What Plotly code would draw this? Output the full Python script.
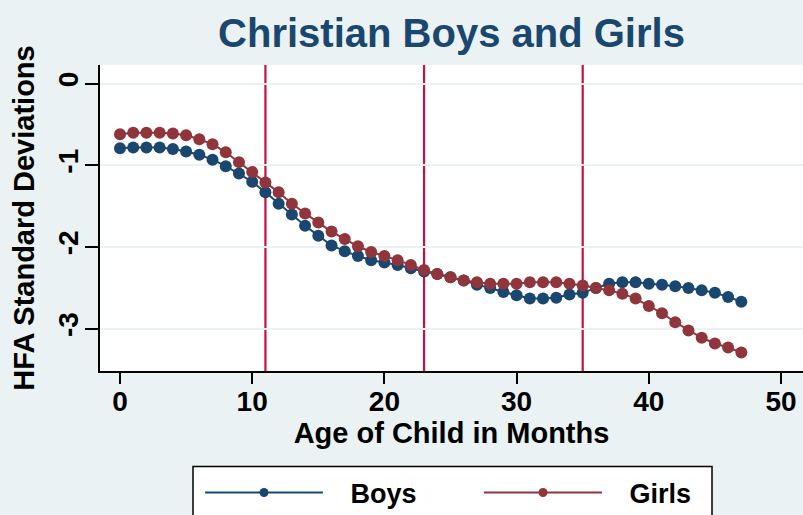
import plotly.graph_objects as go

months = list(range(48))
boys = [-0.79, -0.78, -0.78, -0.78, -0.80, -0.83, -0.87, -0.93, -1.01, -1.10, -1.20, -1.33,
        -1.47, -1.60, -1.74, -1.86, -1.98, -2.05, -2.11, -2.16, -2.19, -2.22, -2.26,
        -2.30, -2.33, -2.37, -2.41, -2.46, -2.50, -2.55, -2.59, -2.63, -2.63, -2.62, -2.58,
        -2.56, -2.50, -2.45, -2.43, -2.43, -2.45, -2.46, -2.48, -2.50, -2.53, -2.56, -2.61, -2.67]
girls = [-0.62, -0.60, -0.60, -0.60, -0.61, -0.63, -0.68, -0.74, -0.84, -0.96, -1.08, -1.21,
         -1.33, -1.47, -1.59, -1.70, -1.81, -1.90, -1.99, -2.06, -2.11, -2.16, -2.22,
         -2.28, -2.33, -2.37, -2.41, -2.43, -2.45, -2.45, -2.45, -2.43, -2.43, -2.43, -2.45,
         -2.47, -2.50, -2.53, -2.57, -2.63, -2.72, -2.81, -2.92, -3.02, -3.11, -3.18, -3.23, -3.29]
vlines = [11, 23, 35]
x_ticks = [0, 10, 20, 30, 40, 50]
y_ticks = [0, -1, -2, -3]

NAVY = "#1a476f"
MAROON = "#90353b"
CRAN = "#c8103e"
BG = "#eaf2f3"
FONT = "Liberation Sans, Arial, sans-serif"


def b(t):
    return "<b>" + t + "</b>"


fig = go.Figure()
for name, ys, col in [("Boys", boys, NAVY), ("Girls", girls, MAROON)]:
    fig.add_trace(go.Scatter(x=months, y=ys, mode="lines+markers", name=name,
                             line=dict(color=col, width=2),
                             marker=dict(color=col, size=12, line=dict(width=0)),
                             showlegend=False, legendgroup=name))
    fig.add_trace(go.Scatter(x=[None], y=[None], mode="lines+markers",
                             name="\u00a0\u00a0\u00a0" + b(name),
                             line=dict(color=col, width=2),
                             marker=dict(color=col, size=9, line=dict(width=0)),
                             legendgroup=name, showlegend=True))

for v in vlines:
    fig.add_shape(type="line", xref="x", yref="paper", x0=v, x1=v, y0=0, y1=1,
                  line=dict(color=CRAN, width=2.2), layer="below")

# legend frame
fig.add_shape(type="rect", xref="paper", yref="paper",
              x0=(193 - 100) / 703, x1=(712 - 100) / 703,
              y0=(370.7 - 540) / 305.7, y1=(370.7 - 466) / 305.7,
              line=dict(color="black", width=1.5), fillcolor="white", layer="above")

fig.update_layout(
    width=803, height=515,
    margin=dict(l=100, r=0, t=65, b=144.3, autoexpand=False),
    paper_bgcolor=BG, plot_bgcolor="white",
    font=dict(family=FONT, color="black"),
    title=dict(text=b("Christian Boys and Girls"), x=0.5, xref="paper", xanchor="center",
               y=1 - 33 / 515, yref="container", yanchor="middle",
               font=dict(size=40, color=NAVY, family=FONT)),
    xaxis=dict(range=[-20 / 13.22, 683 / 13.22], tickvals=x_ticks,
               ticktext=[b(str(t)) for t in x_ticks],
               ticks="outside", ticklen=11, tickwidth=1.5, tickcolor="black",
               showline=True, linecolor="black", linewidth=1.5,
               showgrid=False, zeroline=False, automargin=False,
               tickfont=dict(size=28), ticklabelstandoff=-6,
               title=dict(text=b("Age of Child in Months"), font=dict(size=29), standoff=6)),
    yaxis=dict(range=[-3.517, 0.229], tickvals=y_ticks,
               ticktext=[b(str(t)) for t in y_ticks],
               ticks="outside", ticklen=13, tickwidth=1.5, tickcolor="black",
               showline=True, linecolor="black", linewidth=1.5,
               showgrid=True, gridcolor=BG, gridwidth=2, zeroline=False, automargin=False,
               tickangle=-90, tickfont=dict(size=28), ticklabelstandoff=-4,
               title=dict(text=b("HFA Standard Deviations"), font=dict(size=29), standoff=10)),
    legend=dict(orientation="h", x=(200 - 100) / 703, xanchor="left",
                y=(370.7 - 468) / 305.7, yanchor="top",
                bgcolor="rgba(0,0,0,0)", borderwidth=0,
                itemwidth=118, entrywidth=146, entrywidthmode="pixels",
                font=dict(size=27, color="black"), itemclick=False),
)

fig.write_html("out.html", config={"displayModeBar": False},
               post_script="document.body.style.margin='0';document.body.style.overflow='hidden';")
